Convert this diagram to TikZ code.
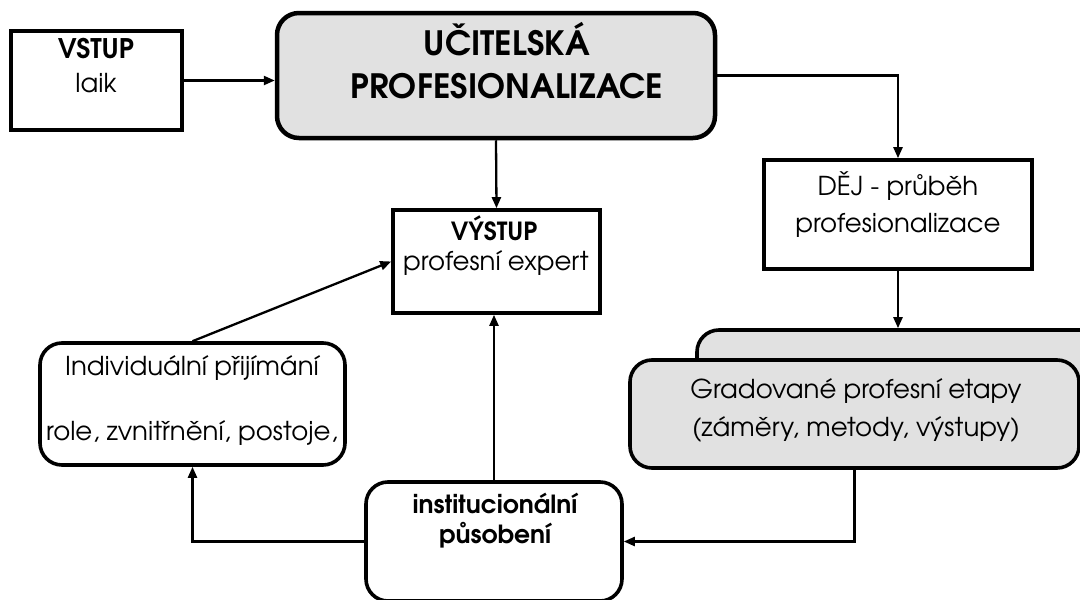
\documentclass[tikz,border=0pt]{standalone}
\usepackage{fontspec}
\setmainfont{TeX Gyre Adventor}
\usetikzlibrary{arrows.meta,calc}
\definecolor{boxgray}{RGB}{225,225,225}
\begin{document}
\begin{tikzpicture}[x=1pt,y=-1pt,
  sqbox/.style={draw, line width=3.6pt, inner sep=0pt},
  rbox/.style={sqbox, rounded corners=22pt},
  conn/.style={line width=2.3pt, -{Triangle[length=11pt,width=9pt]}},
  body/.style={inner sep=0pt, anchor=base, font=\fontsize{26}{30}\selectfont},
  bodyb/.style={inner sep=0pt, anchor=base, font=\fontsize{25}{30}\selectfont\bfseries},
  head/.style={inner sep=0pt, anchor=base, font=\fontsize{33.5}{38}\selectfont\bfseries}]
\useasboundingbox (0,0) rectangle (1080,600);
\clip (0,0) rectangle (1080,600);
\fill[white] (0,0) rectangle (1080,600);
% boxes
\node[sqbox, minimum width=171pt, minimum height=99pt] (vstup) at (96.5,80.5) {};
\node[rbox, line width=4.5pt, fill=boxgray, minimum width=438pt, minimum height=125pt] (main) at (496,75.5) {};
\node[sqbox, minimum width=268pt, minimum height=109pt] (dej) at (898,214.5) {};
\node[sqbox, minimum width=207pt, minimum height=103pt] (vystup) at (496.5,261.5) {};
\node[rbox, minimum width=305pt, minimum height=122pt] (indiv) at (192.5,404) {};
\node[rbox, minimum width=256pt, minimum height=119pt] (inst) at (494,541.5) {};
\node[rbox, fill=boxgray, minimum width=449pt, minimum height=108pt] (back) at (921.5,384) {};
\node[rbox, fill=boxgray, minimum width=449pt, minimum height=108pt] (front) at (854.5,414) {};
% texts
\node[bodyb, font=\fontsize{27}{30}\selectfont\bfseries] (t-vstup) at (96,58) {VSTUP};
\node[body] (t-laik) at (96,92) {laik};
\node[head] (t-uc) at (507,55) {UČITELSKÁ};
\node[head] (t-prof) at (507,98) {PROFESIONALIZACE};
\node[body] (t-dej1) at (898,195) {DĚJ - průběh};
\node[body] (t-dej2) at (898,232) {profesionalizace};
\node[bodyb] (t-vys1) at (494,240) {VÝSTUP};
\node[body] (t-vys2) at (496,270) {profesní expert};
\node[body] (t-ind1) at (192,375) {Individuální přijímání};
\node[body] (t-ind2) at (192,440) {role, zvnitřnění, postoje,};
\node[body] (t-gr1) at (856,398) {Gradované profesní etapy};
\node[body] (t-gr2) at (856,436) {(záměry, metody, výstupy)};
\node[bodyb] (t-in1) at (495,513) {institucionální};
\node[bodyb] (t-in2) at (495,543) {působení};
% connectors
\draw[conn] (vstup.east) -- (vstup.east -| main.west);
\draw[conn] (main.east) -| (dej.north);
\draw[conn] (main.south) -- (vystup.north);
\draw[conn] (dej.south) -- (dej.south |- back.north);
\draw[conn] (front.south) |- (inst.east);
\draw[conn] (inst.north) -- (inst.north |- vystup.south);
\draw[conn] (inst.west) -| (indiv.south);
\draw[conn] (indiv.north) -- (vystup.west);
\end{tikzpicture}
\end{document}
